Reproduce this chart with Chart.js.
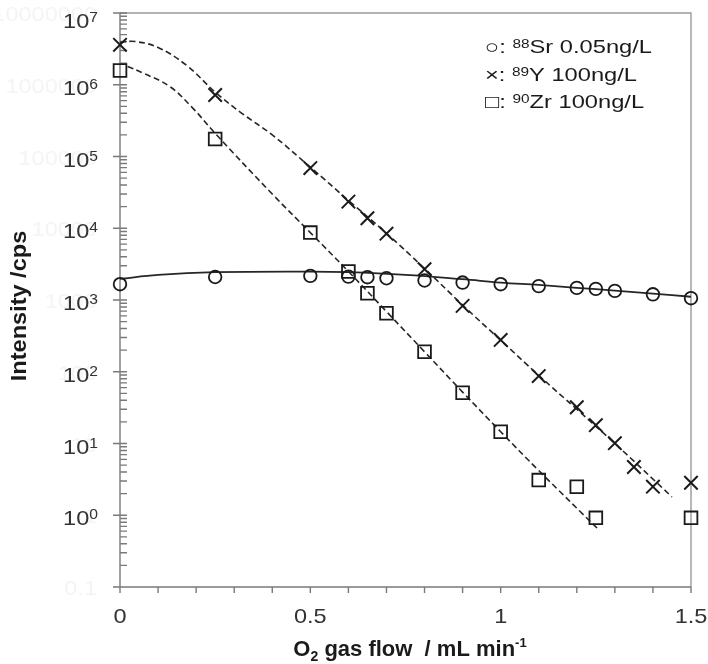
<!DOCTYPE html>
<html lang="en">
<head>
<meta charset="UTF-8">
<title>O2 gas flow - intensity</title>
<style>
  html, body { margin: 0; padding: 0; background: #fff; }
  #wrap { width: 708px; height: 664px; }
</style>
</head>
<body>
<div id="wrap"><canvas id="chart" width="708" height="664"></canvas></div>
<script src="https://cdn.jsdelivr.net/npm/chart.js"></script>
<script>
// measured points (x = O2 gas flow mL/min, y = cps)
const srFlow = [0, 0.25, 0.5, 0.6, 0.65, 0.7, 0.8, 0.9, 1.0, 1.1, 1.2, 1.25, 1.3, 1.4, 1.5];
const srCps  = [1660, 2090, 2170, 2120, 2080, 2010, 1870, 1750, 1660, 1560, 1475, 1430, 1340, 1200, 1060];

const yFlow = [0, 0.25, 0.5, 0.6, 0.65, 0.7, 0.8, 0.9, 1.0, 1.1, 1.2, 1.25, 1.3, 1.35, 1.4, 1.5];
const yCps  = [3.6e6, 7.2e5, 6.9e4, 2.35e4, 1.38e4, 8.4e3, 2690, 828, 278, 87, 32, 18, 10.1, 4.7, 2.5, 2.84];

const zrFlow = [0, 0.25, 0.5, 0.6, 0.65, 0.7, 0.8, 0.9, 1.0, 1.1, 1.2, 1.25, 1.5];
const zrCps  = [1.58e6, 1.75e5, 8.7e3, 2490, 1240, 655, 190, 51, 14.6, 3.09, 2.5, 0.92, 0.92];

// fitted curves
const srFitFlow = [0, 0.1, 0.25, 0.5, 0.6, 0.75, 0.9, 1.0, 1.1, 1.2, 1.3, 1.4, 1.5];
const srFitCps  = [1970, 2240, 2440, 2490, 2440, 2240, 1950, 1750, 1620, 1480, 1350, 1230, 1110];

const yFitFlow = [0, 0.04, 0.1, 0.175, 0.25, 0.32, 0.4, 0.5, 0.6, 0.7, 0.8, 0.9, 1.0, 1.1, 1.2, 1.3, 1.45];
const yFitCps  = [3.9e6, 4.0e6, 3.3e6, 1.86e6, 7.9e5, 4.0e5, 2.0e5, 7.1e4, 2.45e4, 8.5e3, 2750, 850, 275, 89, 30, 10, 1.8];

const zrFitFlow = [0.02, 0.06, 0.13, 0.19, 0.25, 0.4, 0.5, 0.6, 0.7, 0.8, 0.9, 1.0, 1.1, 1.26];
const zrFitCps  = [1.8e6, 1.46e6, 9.5e5, 4.8e5, 2.1e5, 3.0e4, 8.7e3, 2500, 690, 190, 52, 14.6, 4.2, 0.61];

// axis labels
const xTickVals   = [0, 0.5, 1, 1.5];
const xTickLabels = ['0', '0.5', '1', '1.5'];
const yTickExps   = [0, 1, 2, 3, 4, 5, 6, 7];
const yGhostLabels = ['0.1', '1', '10', '100', '1000', '10000', '100000', '1000000', '10000000'];
const legendItems = [
  { mark: '\u25CB: ', iso: '88', text: 'Sr 0.05ng/L' },
  { mark: '\u00D7: ', iso: '89', text: 'Y 100ng/L' },
  { mark: '\u25A1: ', iso: '90', text: 'Zr 100ng/L' }
];

const FONT = '"Liberation Sans", Arial, sans-serif';
const pts = (xs, ys) => xs.map((x, i) => ({ x: x, y: ys[i] }));

// draws runs of text (with sub/superscripts), optionally stretched horizontally
function drawRuns(ctx, parts, x, base, align, sx, weight) {
  let w = 0;
  parts.forEach(p => {
    ctx.font = weight + ' ' + p.s + 'px ' + FONT;
    p.w = ctx.measureText(p.t).width;
    w += p.w;
  });
  let left = x;
  if (align === 'right') left = x - w * sx;
  else if (align === 'center') left = x - w * sx / 2;
  ctx.save();
  ctx.translate(left, base);
  ctx.scale(sx, 1);
  ctx.textAlign = 'left';
  ctx.textBaseline = 'alphabetic';
  let ox = 0;
  parts.forEach(p => {
    ctx.font = weight + ' ' + p.s + 'px ' + FONT;
    ctx.fillText(p.t, ox, p.dy || 0);
    ox += p.w;
  });
  ctx.restore();
}

const decor = {
  id: 'decor',
  beforeDatasetsDraw(chart) {
    const { ctx, chartArea: a, scales: { x, y } } = chart;
    ctx.save();
    ctx.lineWidth = 1.4;
    ctx.strokeStyle = '#9a9a9a';
    ctx.beginPath();
    ctx.moveTo(a.left, a.top);
    ctx.lineTo(a.right, a.top);
    ctx.lineTo(a.right, a.bottom);
    ctx.stroke();

    ctx.strokeStyle = '#7a7a7a';
    ctx.beginPath();
    ctx.moveTo(a.left, a.top);
    ctx.lineTo(a.left, a.bottom);
    ctx.lineTo(a.right, a.bottom);
    for (let e = -1; e <= 7; e++) {
      const p = y.getPixelForValue(Math.pow(10, e));
      ctx.moveTo(a.left - 7, p);
      ctx.lineTo(a.left + 7, p);
      if (e < 7) {
        for (let m = 2; m < 10; m++) {
          const q = y.getPixelForValue(m * Math.pow(10, e));
          ctx.moveTo(a.left, q);
          ctx.lineTo(a.left + 7, q);
        }
      }
    }
    for (let k = 0; k <= 15; k++) {
      const p = x.getPixelForValue(k / 10);
      ctx.moveTo(p, a.bottom);
      ctx.lineTo(p, a.bottom + 6);
    }
    ctx.stroke();
    ctx.restore();
  },
  afterDraw(chart) {
    const { ctx, chartArea: a, scales: { x, y } } = chart;
    ctx.save();

    // faint leftover labels behind the power labels
    ctx.fillStyle = '#f4f4f4';
    yGhostLabels.forEach((t, i) => {
      const p = y.getPixelForValue(Math.pow(10, i - 1));
      drawRuns(ctx, [{ t: t, s: 21 }], 97, p + 8, 'right', 1.12, 'normal');
    });

    // y tick labels 10^n
    ctx.fillStyle = '#333333';
    yTickExps.forEach(e => {
      const p = y.getPixelForValue(Math.pow(10, e));
      const base = e === 7 ? p + 15 : p + 10;
      drawRuns(ctx, [{ t: '10', s: 21 }, { t: String(e), s: 14, dy: -6 }], 98, base, 'right', 1.12, 'normal');
    });

    // x tick labels
    xTickVals.forEach((v, i) => {
      drawRuns(ctx, [{ t: xTickLabels[i], s: 21 }], x.getPixelForValue(v), 623, 'center', 1.12, 'normal');
    });

    // axis titles
    ctx.fillStyle = '#1a1a1a';
    drawRuns(ctx, [
      { t: 'O', s: 22 }, { t: '2', s: 14, dy: 5 }, { t: ' gas flow  / mL min', s: 22 }, { t: '-1', s: 13, dy: -9 }
    ], 410, 656, 'center', 1.0, 'bold');

    ctx.save();
    ctx.translate(26, 306);
    ctx.rotate(-Math.PI / 2);
    drawRuns(ctx, [{ t: 'Intensity /cps', s: 22 }], 0, 0, 'center', 1.07, 'bold');
    ctx.restore();

    // legend
    ctx.fillStyle = '#1a1a1a';
    legendItems.forEach((it, i) => {
      const base = 53 + i * 27.5;
      drawRuns(ctx, [
        { t: it.mark, s: 18.5 }, { t: it.iso, s: 12, dy: -5 }, { t: it.text, s: 18.5 }
      ], 485, base, 'left', 1.28, 'normal');
    });
    ctx.restore();
  }
};

const markerBase = { showLine: false, backgroundColor: 'rgba(0,0,0,0)', borderColor: '#1a1a1a', clip: false };
const fitBase = { showLine: true, pointRadius: 0, borderColor: '#262626', tension: 0.4, fill: false };

new Chart(document.getElementById('chart'), {
  type: 'scatter',
  data: {
    datasets: [
      Object.assign({ label: '88Sr', data: pts(srFlow, srCps), pointStyle: 'circle', pointRadius: 6.3, pointBorderWidth: 1.8 }, markerBase),
      Object.assign({ label: '89Y', data: pts(yFlow, yCps), pointStyle: 'crossRot', pointRadius: 9.5, pointBorderWidth: 2 }, markerBase),
      Object.assign({ label: '90Zr', data: pts(zrFlow, zrCps), pointStyle: 'rect', pointRadius: 9, pointBorderWidth: 1.8 }, markerBase),
      Object.assign({ label: 'Sr fit', data: pts(srFitFlow, srFitCps), borderWidth: 1.8 }, fitBase),
      Object.assign({ label: 'Y fit', data: pts(yFitFlow, yFitCps), borderWidth: 1.6, borderDash: [6, 3.5] }, fitBase),
      Object.assign({ label: 'Zr fit', data: pts(zrFitFlow, zrFitCps), borderWidth: 1.6, borderDash: [6, 3.5] }, fitBase)
    ]
  },
  options: {
    responsive: false,
    animation: false,
    events: [],
    layout: { padding: { left: 0, top: 13, right: 17, bottom: 0 } },
    plugins: { legend: { display: false }, tooltip: { enabled: false } },
    scales: {
      x: {
        type: 'linear', min: 0, max: 1.5,
        grid: { display: false }, border: { display: false }, ticks: { display: false },
        afterFit: s => { s.height = 77; }
      },
      y: {
        type: 'logarithmic', min: 0.1, max: 1e7,
        grid: { display: false }, border: { display: false }, ticks: { display: false },
        afterFit: s => { s.width = 120; }
      }
    }
  },
  plugins: [decor]
});
</script>
</body>
</html>
